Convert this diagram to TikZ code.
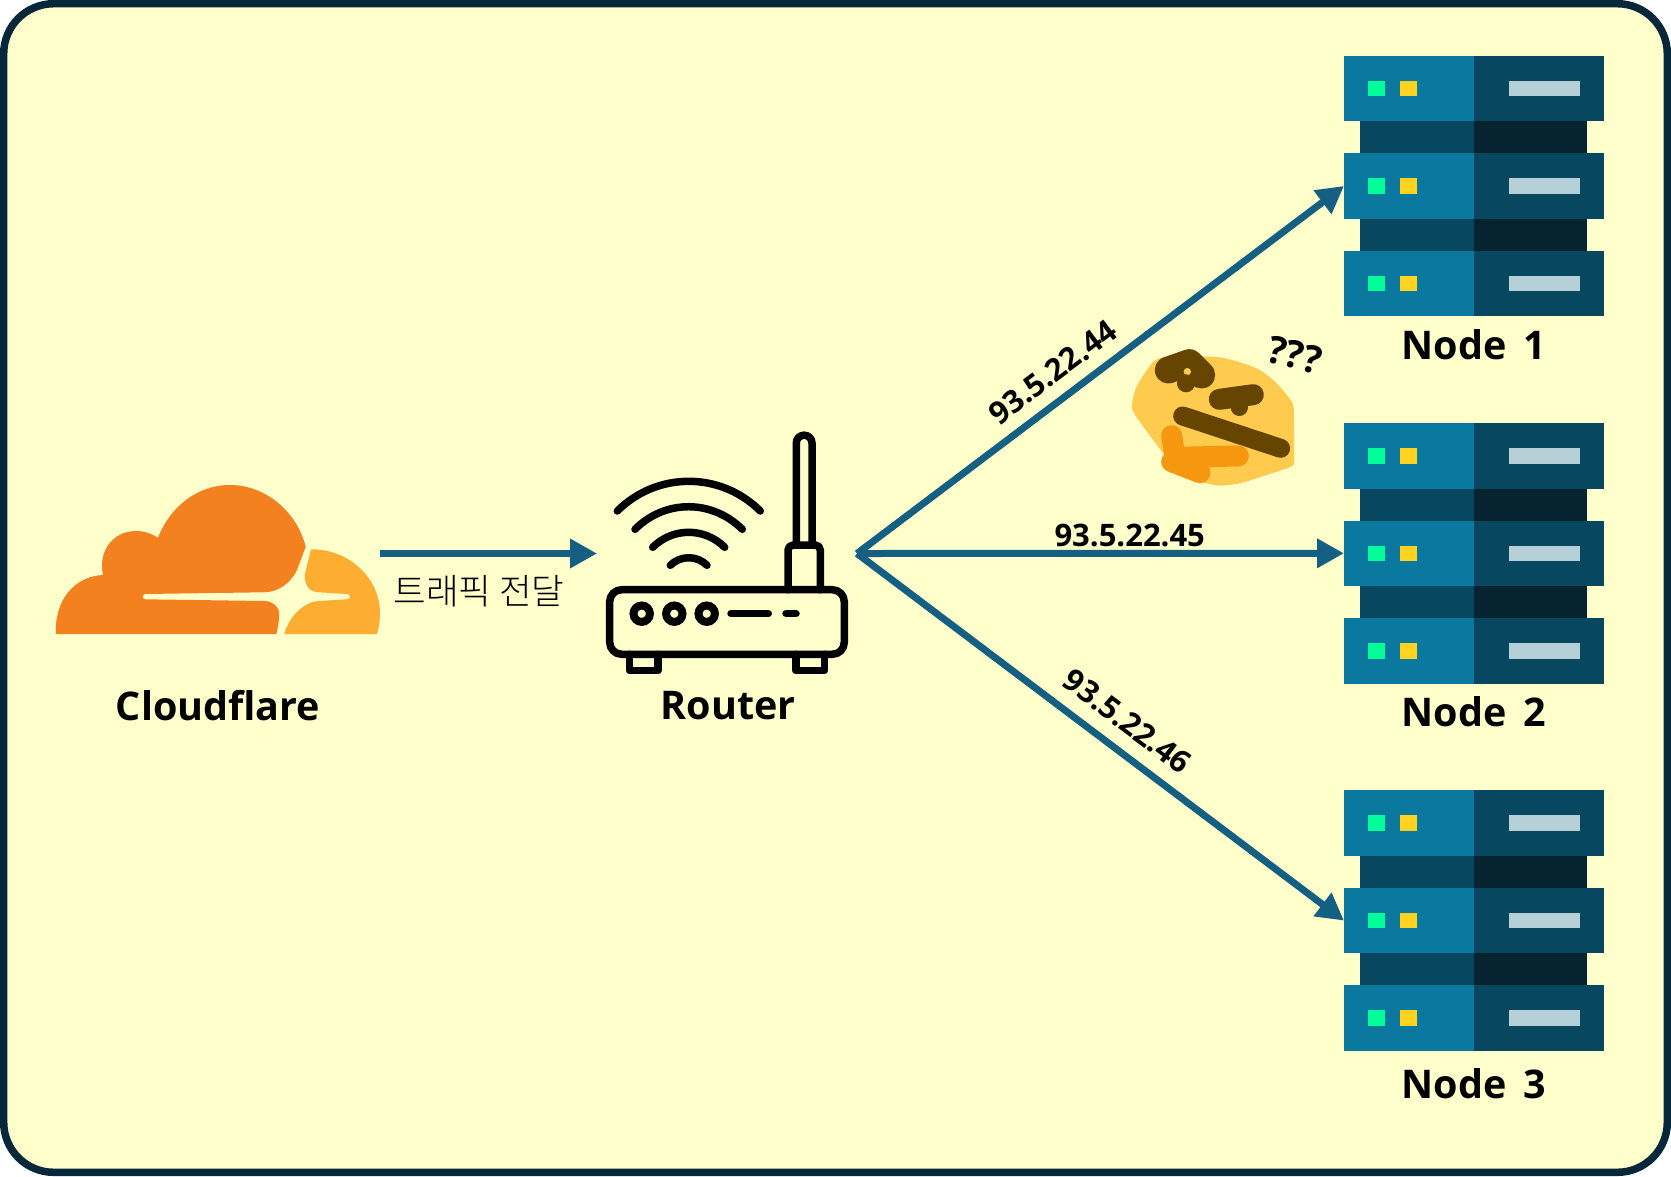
\documentclass[tikz,border=0pt]{standalone}
\usepackage{fontspec}
\setmainfont{Open Sans}
\newfontfamily\cjkfont{Noto Sans CJK KR}[UprightFont=* Light]
\usetikzlibrary{arrows.meta, positioning}

\definecolor{framedark}{HTML}{06283A}
\definecolor{paperyellow}{HTML}{FFFFCC}
\definecolor{linkblue}{HTML}{156082}
\definecolor{cloudorange}{HTML}{F48120}
\definecolor{cloudyellow}{HTML}{FCAD32}
\definecolor{rackbright}{HTML}{0A789F}
\definecolor{rackmid}{HTML}{07475F}
\definecolor{rackdark}{HTML}{05242F}
\definecolor{ledgreen}{HTML}{00FF99}
\definecolor{ledyellow}{HTML}{FFD31F}
\definecolor{slotpale}{HTML}{B6D0D8}
\definecolor{faceyellow}{HTML}{FFCB4F}
\definecolor{facebrown}{HTML}{664500}
\definecolor{handorange}{HTML}{F5970F}

\tikzset{
    serverrack/.pic={
        \fill[rackmid] (-114,-65) rectangle (0,65);
        \fill[rackdark] (0,-65) rectangle (113,65);
        \foreach \y in {-97.5,0,97.5} {
            \fill[rackbright] (-130,\y-32.7) rectangle (0,\y+32.7);
            \fill[rackmid] (0,\y-32.7) rectangle (130,\y+32.7);
            \fill[ledgreen] (-106,\y-7.7) rectangle (-89.3,\y+7.7);
            \fill[ledyellow] (-73.7,\y-7.7) rectangle (-57,\y+7.7);
            \fill[slotpale] (35.3,\y-7.7) rectangle (105.7,\y+7.7);
        }
    }
}

\begin{document}
\begin{tikzpicture}[
        x=1pt, y=-1pt,
        rackframe/.style={rectangle, inner sep=0pt, outer sep=0pt, minimum width=260pt, minimum height=260pt},
        title/.style={font=\fontsize{39.5}{42}\selectfont\bfseries, inner sep=0pt},
        iplabel/.style={font=\fontsize{31}{33}\selectfont\bfseries, text=black, inner sep=0pt},
        arrow/.style={-{Triangle[length=27pt,width=28pt]}, line width=7pt, linkblue},
        routerline/.style={line width=7.5pt, line cap=round, line join=round}
    ]
        \useasboundingbox (0,0) rectangle (1671,1176);
        \draw[framedark, fill=paperyellow, line width=7.5pt, rounded corners=50pt] (3.7,3.7) rectangle (1667.3,1172.3);

        % cloud
        \fill[cloudorange] (56,634) .. controls (54,600) and (75,576) .. (103,575)
            .. controls (98,552) and (112,531) .. (136.4,531)
            .. controls (145,531) and (152,534) .. (158,537.7)
            .. controls (170,507) and (197,485) .. (230,485)
            .. controls (266,485) and (297,512) .. (305.7,546.7)
            -- (297,570) .. controls (290,584) and (278,592) .. (264,592.3)
            -- (145,594) .. controls (142,594.5) and (142,599) .. (145,599.3)
            -- (264,601) .. controls (274,601) and (281,609) .. (279,616.7)
            .. controls (279,624) and (277,630) .. (276.4,634) -- cycle;
        \fill[cloudyellow] (311,549.3) .. controls (350,549) and (380,579) .. (380,613)
            .. controls (380,620) and (379,628) .. (377,634) -- (284.3,634)
            .. controls (289,617) and (303,602) .. (319,601)
            -- (347,599.3) .. controls (351,599) and (351,594) .. (347,594)
            -- (319,592.3) .. controls (308,592) and (304,584) .. (305,573.3) -- cycle;
        \node[title] (cloudflare) at (218,706) {Cloudflare};

        % router
        \draw[routerline, rounded corners=12pt] (609.7,589.7) rectangle (844.3,654.3);
        \draw[routerline] (629.3,654.3) -- (629.3,670.7) -- (658,670.7) -- (658,654.3);
        \draw[routerline] (796,654.3) -- (796,670.7) -- (824.7,670.7) -- (824.7,654.3);
        \draw[routerline, rounded corners=5pt] (788,589.7) -- (788,545) -- (820.3,545) -- (820.3,589.7);
        \draw[routerline] (796.3,545) -- (796.3,443) arc[start angle=180, end angle=360, radius=7.85] -- (812,545);
        \foreach \x in {641.7,674.3,706.7} {
            \draw[line width=8pt] (\x,613.7) circle[radius=8.2];
        }
        \draw[routerline] (731,613.7) -- (768.3,613.7);
        \draw[routerline] (786,613.7) -- (796,613.7);
        \draw[routerline] (617.3,511) .. controls (657,471.4) and (720.6,471.4) .. (760.3,511);
        \draw[routerline] (635,529.3) .. controls (665,499.2) and (712,499.2) .. (742.3,529.3);
        \draw[routerline] (652.7,547.3) .. controls (672.7,527.3) and (704.7,527.3) .. (724.7,547.3);
        \draw[routerline] (670.3,565.3) .. controls (680.5,555.2) and (697,555.2) .. (707,565.3);
        \node[title] (router) at (728,706) {Router};

        % servers
        \node[rackframe] (node1) at (1474,186) {};
        \node[rackframe] (node2) at (1474,553.3) {};
        \node[rackframe] (node3) at (1474,920.6) {};
        \pic at (node1.center) {serverrack};
        \pic at (node2.center) {serverrack};
        \pic at (node3.center) {serverrack};
        \node[title] (label1) at (1474,345) {Node\hspace{7pt} 1};
        \node[title] (label2) at (1474,712) {Node\hspace{7pt} 2};
        \node[title] (label3) at (1474,1084) {Node\hspace{7pt} 3};

        % face
        \begin{scope}[shift={(1110,320)}, x=0.3333pt, y=-0.3333pt]
            \fill[faceyellow] plot[smooth cycle, tension=0.4] coordinates {(130,125) (180,110) (330,112) (440,145) (500,190) (548,250) (552,300) (552,400) (548,437) (470,465) (390,490) (330,497) (290,490) (220,470) (160,400) (100,320) (66,265) (80,200)};
            \draw[facebrown, line width=27pt, line cap=round, line join=round] (175,150) -- (238,128) -- (275,165);
            \fill[faceyellow] (232,155) circle[radius=11];
            \fill[facebrown] (228,190) circle[radius=27];
            \draw[facebrown, line width=21pt, line cap=round] (328,238) -- (430,224);
            \fill[facebrown] (388,262) circle[radius=26];
            \draw[facebrown, line width=19pt, line cap=round] (218,288) -- (512,385);
            \draw[handorange, line width=21pt, line cap=round, line join=round] (185,347) -- (195,412) -- (385,408);
            \draw[handorange, line width=21pt, line cap=round] (185,425) -- (270,458);
            \fill[handorange] (195,400) rectangle (290,450);
        \end{scope}
        \node[font=\fontsize{38}{40}\selectfont\bfseries, inner sep=0pt, rotate=-14] (puzzled) at (1295,355) {???};

        % links
        \coordinate (cloudout) at (380,553.5);
        \coordinate (routerin) at (597,553.5);
        \coordinate (routerout) at (857,553.5);
        \draw[arrow] (cloudout) -- (routerin);
        \node[font=\fontsize{35.5}{38}\selectfont\cjkfont, inner sep=0pt] (traffic) at (479,591) {트래픽 전달};

        \draw[arrow] (routerout) -- node[iplabel, sloped, above=12pt, pos=0.435] (ip1) {93.5.22.44} (node1.west);
        \draw[arrow] (routerout) -- node[iplabel, above=3pt, pos=0.56] (ip2) {93.5.22.45} (node2.west);
        \draw[arrow] (routerout) -- node[iplabel, sloped, above=14pt, pos=0.52] (ip3) {93.5.22.46} (node3.west);
    \end{tikzpicture}
\end{document}
